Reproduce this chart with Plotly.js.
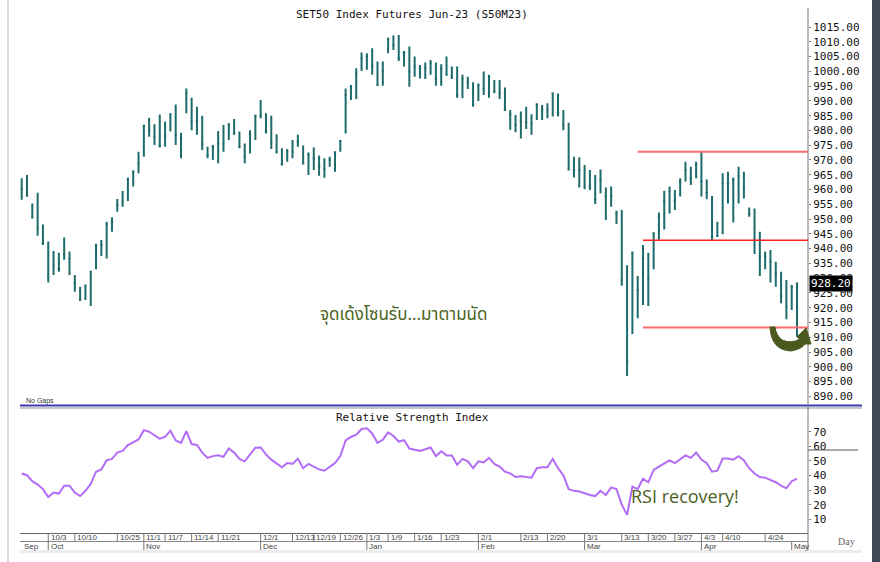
<!DOCTYPE html>
<html><head><meta charset="utf-8">
<script src="https://cdn.plot.ly/plotly-3.0.1.min.js"></script>
<style>html,body{margin:0;padding:0;background:#fff}#chart{width:880px;height:562px}</style>
</head><body><div id="chart"></div>
<script>
const dates = [
'2022-09-26','2022-09-27','2022-09-28','2022-09-29','2022-09-30',
'2022-10-03','2022-10-04','2022-10-05','2022-10-06','2022-10-07','2022-10-10','2022-10-11','2022-10-12','2022-10-17','2022-10-18','2022-10-19','2022-10-20','2022-10-21','2022-10-25','2022-10-26','2022-10-27','2022-10-28','2022-10-31',
'2022-11-01','2022-11-02','2022-11-03','2022-11-04','2022-11-07','2022-11-08','2022-11-09','2022-11-10','2022-11-11','2022-11-14','2022-11-15','2022-11-16','2022-11-17','2022-11-18','2022-11-21','2022-11-22','2022-11-23','2022-11-24','2022-11-25','2022-11-28','2022-11-29','2022-11-30',
'2022-12-01','2022-12-02','2022-12-06','2022-12-07','2022-12-08','2022-12-09','2022-12-13','2022-12-14','2022-12-15','2022-12-16','2022-12-19','2022-12-20','2022-12-21','2022-12-22','2022-12-23','2022-12-26','2022-12-27','2022-12-28','2022-12-29','2022-12-30',
'2023-01-03','2023-01-04','2023-01-05','2023-01-06','2023-01-09','2023-01-10','2023-01-11','2023-01-12','2023-01-13','2023-01-16','2023-01-17','2023-01-18','2023-01-19','2023-01-20','2023-01-23','2023-01-24','2023-01-25','2023-01-26','2023-01-27','2023-01-30','2023-01-31',
'2023-02-01','2023-02-02','2023-02-03','2023-02-06','2023-02-07','2023-02-08','2023-02-09','2023-02-10','2023-02-13','2023-02-14','2023-02-15','2023-02-16','2023-02-17','2023-02-20','2023-02-21','2023-02-22','2023-02-23','2023-02-24','2023-02-27','2023-02-28',
'2023-03-01','2023-03-02','2023-03-03','2023-03-07','2023-03-08','2023-03-09','2023-03-10','2023-03-13','2023-03-14','2023-03-15','2023-03-16','2023-03-17','2023-03-20','2023-03-21','2023-03-22','2023-03-23','2023-03-24','2023-03-27','2023-03-28','2023-03-29','2023-03-30','2023-03-31',
'2023-04-03','2023-04-04','2023-04-05','2023-04-07','2023-04-10','2023-04-11','2023-04-12','2023-04-17','2023-04-18','2023-04-19','2023-04-20','2023-04-21','2023-04-24','2023-04-25','2023-04-26','2023-04-27','2023-04-28',
'2023-05-02','2023-05-03'];

const high = [
963.8,964.9,955.3,958.9,948.2,942.4,939.2,938.6,943.8,939.0,
931.1,927.1,927.9,932.4,941.5,942.9,949.1,950.6,956.8,959.5,
964.0,966.4,972.8,981.8,984.3,982.1,985.4,983.0,985.8,988.8,
979.2,994.2,991.1,988.0,985.0,974.5,975.1,979.8,981.8,982.4,
983.9,979.6,975.6,980.1,985.2,990.3,985.8,985.0,978.7,974.0,
973.7,976.8,978.5,974.9,972.5,974.2,971.5,970.6,971.1,972.8,
976.8,994.2,995.4,1001.0,1006.4,1006.1,1007.8,1003.3,1003.3,1011.2,
1012.1,1012.3,1006.9,1008.4,1005.0,1002.1,1003.0,1003.8,1003.0,1002.4,
1005.0,1001.6,1001.6,998.8,998.2,996.3,995.9,999.9,998.8,997.1,
997.1,994.5,986.9,985.2,986.4,988.0,985.5,989.2,988.6,989.2,
992.8,992.5,986.9,982.6,971.1,970.9,968.3,966.6,964.9,966.8,
960.7,961.0,952.8,953.1,934.4,939.0,930.7,941.2,938.6,945.4,
952.2,959.6,961.0,959.8,963.8,969.4,967.7,969.4,972.8,963.4,
957.8,949.1,965.5,966.0,964.1,967.7,966.0,953.9,953.6,945.7,
939.0,939.5,935.6,932.2,929.4,927.7,928.2];

const low = [
956.5,957.9,950.3,944.4,941.2,928.5,931.1,932.2,936.2,931.1,
925.4,922.3,922.6,920.6,933.0,937.5,936.7,945.7,952.5,954.2,
956.1,961.0,965.5,971.1,977.9,975.1,974.2,974.5,979.6,975.1,
970.6,985.8,980.1,978.5,973.4,970.6,970.0,968.9,972.8,976.8,
978.5,974.0,968.9,972.2,976.8,984.1,979.0,973.7,972.2,968.3,
969.4,970.6,974.5,968.5,964.9,966.6,964.7,964.0,967.7,966.0,
972.8,979.0,990.3,990.6,1000.1,1000.5,998.8,995.1,995.1,1006.1,
1007.2,1003.5,1001.6,994.8,998.2,997.6,997.4,998.8,995.1,995.1,
998.5,997.4,991.1,990.9,994.0,988.0,990.0,992.0,991.1,992.6,
990.6,986.6,980.2,979.4,977.3,980.5,978.5,983.5,983.5,984.1,
984.7,984.7,980.1,966.6,964.1,960.7,960.1,959.8,955.1,958.7,
949.7,954.2,948.3,927.4,896.9,911.1,916.4,920.9,920.6,933.0,
943.0,946.5,951.9,953.1,957.6,962.7,961.5,963.8,957.6,956.7,
942.9,944.0,944.9,955.3,948.8,955.3,957.0,950.8,938.2,930.7,
933.0,928.5,927.1,921.5,916.1,919.2,910.2];

const close = [
960.2,957.9,950.5,946.9,941.8,930.5,934.2,933.1,938.1,936.7,
928.3,922.6,927.5,932.2,941.3,941.3,948.2,949.1,954.8,955.9,
963.6,966.1,968.9,981.6,980.1,977.9,974.9,978.1,985.5,978.5,
977.3,992.6,983.0,983.0,975.4,971.7,974.5,975.6,975.6,982.1,
979.0,974.5,971.1,978.5,985.0,985.0,979.6,976.0,972.8,968.5,
972.8,972.8,976.2,968.9,971.7,970.6,967.7,967.0,970.0,972.6,
976.4,992.0,994.8,999.3,1004.4,1005.0,1001.6,995.4,1000.1,1011.0,
1008.9,1004.4,1006.1,999.9,1001.6,1001.2,1001.0,1002.7,997.4,1000.8,
998.8,998.2,991.8,997.6,996.3,988.8,995.4,994.2,998.2,993.3,
992.6,986.9,985.5,981.8,983.0,982.8,982.4,988.8,986.9,987.1,
992.5,985.8,981.8,966.8,966.6,966.6,961.0,961.0,956.7,963.2,
957.8,957.8,951.9,929.4,901.7,938.6,926.0,936.7,930.0,945.2,
950.8,956.2,959.6,956.2,962.7,966.6,963.8,968.3,962.7,958.9,
944.0,944.3,962.1,962.1,963.2,964.6,960.7,951.7,942.9,937.3,
937.3,935.6,931.6,924.0,920.4,927.1,928.2];

const rsi = [
41.4,40.2,36.1,33.8,30.7,25.2,28.3,27.6,33.0,33.0,
28.3,25.9,29.5,34.2,42.6,44.2,50.4,51.4,55.7,56.9,
60.9,62.8,64.7,71.1,70.0,67.6,65.2,66.4,70.7,64.0,
62.3,70.4,61.6,60.9,55.7,52.1,53.3,53.8,52.8,58.5,
55.7,51.4,49.7,54.5,59.0,59.2,54.5,50.9,48.0,45.7,
48.5,48.0,51.6,45.0,48.0,46.1,44.2,43.3,45.7,48.5,
53.3,64.0,66.4,68.0,71.9,72.3,68.8,62.3,64.5,69.5,
67.1,63.3,64.2,58.5,57.6,56.9,58.0,59.2,53.3,56.6,
53.8,53.8,47.3,51.4,49.7,45.0,49.7,49.0,52.1,48.0,
46.1,42.6,41.4,39.0,39.5,39.0,38.5,45.0,45.7,45.7,
51.4,45.0,40.2,30.7,29.5,29.0,27.6,26.6,25.9,29.5,
26.6,31.9,30.7,20.0,13.0,32.3,30.7,37.8,35.4,43.8,
46.1,48.5,50.4,48.5,50.9,53.8,52.1,55.7,50.9,48.5,
42.6,43.3,51.6,51.6,50.9,53.3,50.4,45.0,41.4,39.0,
38.5,37.1,35.4,33.0,31.2,36.1,37.8];

const dateTicks = ['2022-10-03','2022-10-10','2022-10-25','2022-11-01','2022-11-07','2022-11-14','2022-11-21','2022-12-01','2022-12-13','2022-12-19','2022-12-26','2023-01-03','2023-01-09','2023-01-16','2023-01-23','2023-02-01','2023-02-13','2023-02-20','2023-03-01','2023-03-13','2023-03-20','2023-03-27','2023-04-03','2023-04-10','2023-04-24'];
const dateTickLabels = ['10/3','10/10','10/25','11/1','11/7','11/14','11/21','12/1','12/13','12/19','12/26','1/3','1/9','1/16','1/23','2/1','2/13','2/20','3/1','3/13','3/20','3/27','4/3','4/10','4/24'];
const monthStarts = ['2022-09-26','2022-10-03','2022-11-01','2022-12-01','2023-01-03','2023-02-01','2023-03-01','2023-04-03','2023-05-02'];
const monthLabels = ['Sep','Oct','Nov','Dec','Jan','Feb','Mar','Apr','May'];
const priceTicks = [890,895,900,905,910,915,920,925,930,935,940,945,950,955,960,965,970,975,980,985,990,995,1000,1005,1010,1015];
const rsiTicks = [10,20,30,40,50,60,70];
const levelValues = [972.8, 942.8, 913.3];
const levelStarts = ['2023-03-16','2023-03-17','2023-03-17'];
const lastClose = close[close.length-1];

const idx = dates.map((d,i)=>i);
const W = 880, H = 562;
const px = x => x / W;
const py = y => 1 - y / H;

const traces = [
  {type:'ohlc', x: idx, open: close, high: high, low: low, close: close,
   xaxis:'x', yaxis:'y', tickwidth:0.22, hoverinfo:'skip',
   increasing:{line:{color:'#1d6b6b', width:2}}, decreasing:{line:{color:'#1d6b6b', width:2}}},
  {type:'scatter', mode:'lines', x: idx, y: rsi, xaxis:'x', yaxis:'y2',
   line:{color:'#b36cf6', width:2}, hoverinfo:'skip'}
];

const shapes = [];
const annotations = [];
const mono = 'DejaVu Sans Mono, Liberation Mono, monospace';
const narrow = 'Liberation Sans Narrow, Arial Narrow, Liberation Sans, sans-serif';

// frame lines
shapes.push({type:'line', xref:'paper', yref:'paper', x0:px(8), x1:px(8), y0:0, y1:1, line:{color:'#dcdcdc', width:2}});
shapes.push({type:'line', xref:'paper', yref:'paper', x0:px(20), x1:px(862), y0:py(405.5), y1:py(405.5), line:{color:'#3c3cb0', width:2}});
shapes.push({type:'line', xref:'paper', yref:'paper', x0:px(20), x1:px(862), y0:py(408), y1:py(408), line:{color:'#b4b4b4', width:1.5}});
shapes.push({type:'line', xref:'paper', yref:'paper', x0:px(808), x1:px(808), y0:py(8), y1:py(550), line:{color:'#777', width:1}});
shapes.push({type:'line', xref:'paper', yref:'paper', x0:px(20), x1:px(808), y0:py(541.5), y1:py(541.5), line:{color:'#888', width:1}});
shapes.push({type:'line', xref:'paper', yref:'paper', x0:px(20), x1:px(862), y0:py(551.5), y1:py(551.5), line:{color:'#ececec', width:3}});
shapes.push({type:'line', xref:'paper', yref:'paper', x0:px(808), x1:px(858), y0:py(450), y1:py(450), line:{color:'#555', width:1}});
shapes.push({type:'rect', xref:'paper', yref:'paper', x0:px(872), x1:px(880), y0:0, y1:1, fillcolor:'#3f4656', line:{width:0}});

// date ticks and month ticks
dateTicks.forEach((d,k)=>{
  const i = dates.indexOf(d);
  shapes.push({type:'line', xref:'x', yref:'paper', x0:i, x1:i, y0:py(533), y1:py(541.5), line:{color:'#777', width:1}});
  annotations.push({xref:'x', yref:'paper', x:i+0.1, y:py(537.5), text:dateTickLabels[k], showarrow:false, xanchor:'left', yanchor:'middle',
    font:{family:narrow, size:8, color:'#444'}});
});
monthStarts.forEach((d,k)=>{
  const i = dates.indexOf(d);
  if (k>0) shapes.push({type:'line', xref:'x', yref:'paper', x0:i, x1:i, y0:py(541.5), y1:py(550), line:{color:'#777', width:1}});
  annotations.push({xref:'x', yref:'paper', x:i+0.1, y:py(546), text:monthLabels[k], showarrow:false, xanchor:'left', yanchor:'middle',
    font:{family:narrow, size:8, color:'#444'}});
});

// support / resistance levels
const levelColors = ['#ff6a6a','#ff1f1f','#ff6a6a'];
const levelWidths = [2,1.5,2];
levelValues.forEach((v,k)=>{
  shapes.push({type:'line', xref:'x', yref:'y', x0:dates.indexOf(levelStarts[k]), x1:dates.length+5, y0:v, y1:v,
    line:{color:levelColors[k], width:levelWidths[k]}});
});

// green curved arrow (crescent with head pointing up towards the last low)
const pts = (arr)=>arr.map(p=>px(p[0]).toFixed(5)+','+py(p[1]).toFixed(5));
const a = pts([[770,327],[771,350],[791,351],[802,349],[805,344],[811,344],[806,328],[797,337],[800,339],[791,344],[782,340],[776,335],[775,327]]);
const arrowPath = 'M'+a[0]+' Q'+a[1]+' '+a[2]+' Q'+a[3]+' '+a[4]+' L'+a[5]+' L'+a[6]+' L'+a[7]+' L'+a[8]+' Q'+a[9]+' '+a[10]+' Q'+a[11]+' '+a[12]+' Z';
shapes.push({type:'path', xref:'paper', yref:'paper', path:arrowPath, fillcolor:'#4a5a1e', line:{color:'#4a5a1e', width:1}});

// texts
annotations.push({xref:'paper', yref:'paper', x:px(412), y:py(14), text:'SET50 Index Futures Jun-23 (S50M23)', showarrow:false,
  font:{family:mono, size:11, color:'#111'}, xanchor:'center', yanchor:'middle'});
annotations.push({xref:'paper', yref:'paper', x:px(412), y:py(417), text:'Relative Strength Index', showarrow:false,
  font:{family:mono, size:11, color:'#111'}, xanchor:'center', yanchor:'middle'});
annotations.push({xref:'paper', yref:'paper', x:px(24), y:py(401), text:'No Gaps', showarrow:false,
  font:{family:narrow, size:7, color:'#333'}, xanchor:'left', yanchor:'middle'});
annotations.push({xref:'paper', yref:'paper', x:px(403), y:py(315), text:'จุดเด้งโซนรับ...มาตามนัด', showarrow:false,
  font:{family:'Noto Sans Thai, Noto Sans, sans-serif', size:17, color:'#4b6322'}, xanchor:'center', yanchor:'middle'});
annotations.push({xref:'paper', yref:'paper', x:px(629), y:py(496), text:'RSI recovery!', showarrow:false,
  font:{family:'Open Sans, Noto Sans, sans-serif', size:18, color:'#4b5e23'}, xanchor:'left', yanchor:'middle'});
annotations.push({xref:'paper', yref:'y', x:px(809), y:lastClose, text:lastClose.toFixed(2), showarrow:false,
  font:{family:mono, size:11, color:'#fff'}, bgcolor:'#000', borderpad:1, xanchor:'left', yanchor:'middle'});
annotations.push({xref:'paper', yref:'paper', x:px(846), y:py(541), text:'Day', showarrow:false,
  font:{family:'Liberation Serif, DejaVu Serif, serif', size:10, color:'#666'}, xanchor:'center', yanchor:'middle'});

const layout = {
  width:W, height:H, margin:{l:0,r:0,t:0,b:0}, paper_bgcolor:'#fff', plot_bgcolor:'#fff', showlegend:false,
  xaxis:{domain:[px(20), px(808)], range:[-0.32, 148.07], anchor:'y2', showticklabels:false, ticks:'', showgrid:false,
    zeroline:false, showline:true, linecolor:'#666', linewidth:1, rangeslider:{visible:false}, fixedrange:true},
  yaxis:{domain:[py(403), py(8)], range:[887.76, 1021.43], side:'right', anchor:'x', tickmode:'array', tickvals:priceTicks,
    ticktext:priceTicks.map(v=>v.toFixed(2)), ticks:'outside', ticklen:2, tickcolor:'#777', showline:false, showgrid:false,
    zeroline:false, tickfont:{family:mono, size:11, color:'#111'}, fixedrange:true},
  yaxis2:{domain:[py(533), py(410)], range:[0.6, 84.9], side:'right', anchor:'x', tickmode:'array', tickvals:rsiTicks,
    ticks:'outside', ticklen:2, tickcolor:'#777', showline:false, showgrid:false, zeroline:false,
    tickfont:{family:mono, size:11, color:'#111'}, fixedrange:true},
  shapes: shapes, annotations: annotations
};

Plotly.newPlot('chart', traces, layout, {staticPlot:true, displayModeBar:false});
</script></body></html>
